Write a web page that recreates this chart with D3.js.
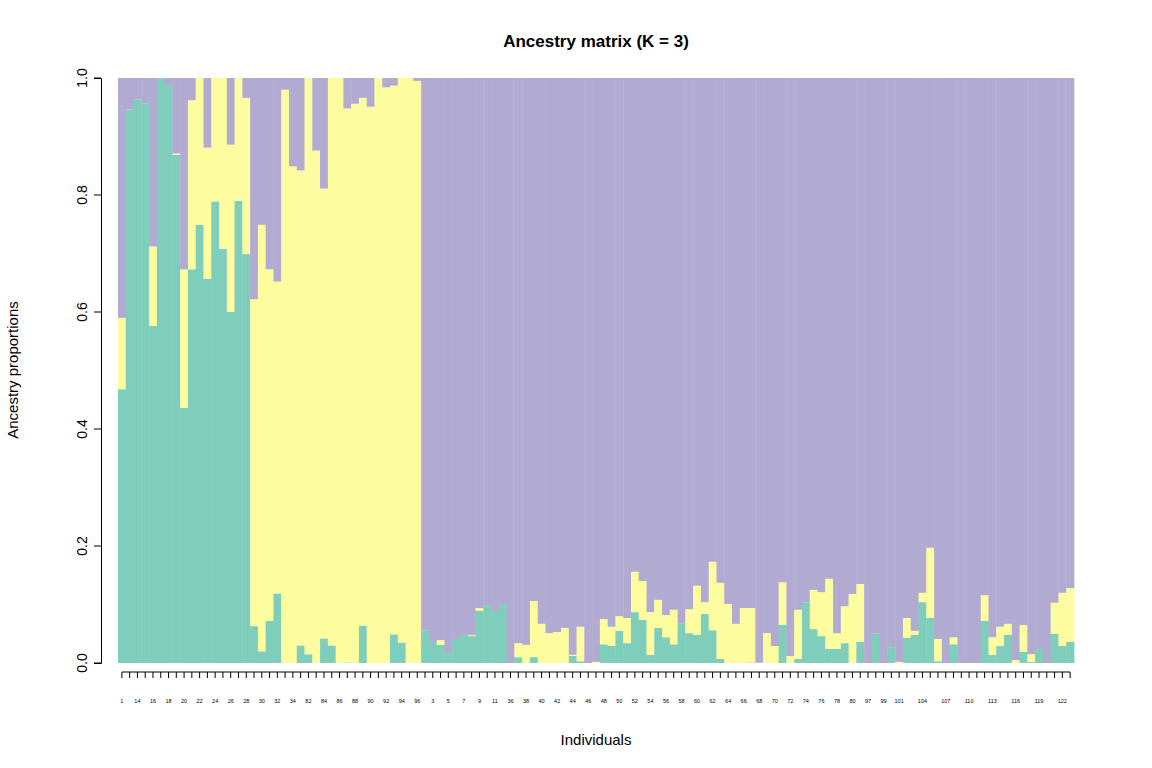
<!DOCTYPE html>
<html><head><meta charset="utf-8">
<script src="https://cdn.jsdelivr.net/npm/d3@7"></script>
<style>body{margin:0;background:#fff}svg{font-family:"Liberation Sans",Arial,sans-serif}</style>
</head><body><svg id="c" width="1152" height="768"></svg>
<script>
const individuals = [1,13].concat(d3.range(14,36), d3.range(82,97), d3.range(2,13), d3.range(36,82), d3.range(97,124)).map(String);
// cumulative tops: cluster 1 (green), cluster 1+2 (yellow); cluster 3 (purple) fills to 1
const q1 = [.468,.946,.963,.956,.576,.999,.988,.869,.436,.673,.749,.657,.789,.708,.600,.790,.699,.063,.020,.072,
.119,0,0,.030,.015,0,.042,.030,0,.001,0,.064,0,0,0,.049,.035,0,0,.056,
.036,.031,.017,.041,.048,.046,.089,.099,.089,.101,0,.010,0,.010,0,0,0,0,.012,.003,
0,0,.032,.029,.055,.034,.087,.074,.014,.060,.044,.032,.068,.051,.048,.084,.056,.007,0,0,
0,.001,.001,0,0,.065,0,.007,.103,.058,.046,.024,.024,.034,0,.036,0,.050,0,.027,
0,.043,.048,.104,.077,.003,0,.032,0,0,0,.072,.014,.029,.048,0,.019,.002,.024,0,
.050,.029,.036];
const q12 = [.590,.946,.963,.956,.712,.999,.988,.871,.673,.962,1,.881,1,1,.886,1,.966,.622,.749,.673,
.652,.980,.849,.842,1,.876,.811,1,1,.948,.956,.966,.951,1,.984,.987,1,1,.995,.056,
.036,.039,.017,.041,.048,.048,.094,.099,.089,.101,0,.034,.031,.106,.067,.051,.053,.060,.014,.062,
0,.002,.075,.062,.080,.077,.156,.140,.087,.108,.082,.091,.068,.092,.132,.104,.173,.137,.101,.067,
.094,.094,.001,.051,.029,.138,.012,.091,.103,.125,.121,.144,.051,.097,.118,.135,0,.050,0,.027,
.002,.077,.055,.120,.197,.041,0,.044,0,0,0,.116,.044,.062,.067,.005,.065,.015,.024,0,
.103,.120,.128];
const yTicks = [0,0.2,0.4,0.6,0.8,1.0];
const colors = ["#7fcdbb","#fdfda0","#b1aad1"];

const svg = d3.select("#c");
const L=118,R=1074,T=78,B=663;
const x = d3.scaleBand().domain(d3.range(individuals.length)).range([L,R]).padding(0);
const y = d3.scaleLinear().domain([0,1]).range([B,T]);
const rows = individuals.map((n,i)=>[[0,q1[i]],[q1[i],q12[i]],[q12[i],1]]);
rows.forEach((segs,i)=>segs.forEach((s,k)=>{
  if(s[1]-s[0]<=0) return;
  svg.append("rect").attr("x",x(i)).attr("width",x.bandwidth()+0.4)
    .attr("y",y(s[1])).attr("height",y(s[0])-y(s[1])).attr("fill",colors[k]);
}));
// y axis
const ya = svg.append("g").attr("transform","translate(101,0)")
  .call(d3.axisLeft(y).tickValues(yTicks).tickFormat(d3.format(".1f")).tickSizeOuter(0).tickSize(7));
ya.selectAll("path,line").attr("stroke","#000");
ya.selectAll("text").attr("font-size",14).attr("fill","#000").attr("transform","rotate(-90)")
  .attr("text-anchor","middle").attr("x",0).attr("dy",0).attr("y",-14);
ya.selectAll("text").each(function(d){d3.select(this).attr("transform",`translate(-14,${y(d)}) rotate(-90)`).attr("y",0).attr("x",0);});
ya.selectAll(".tick").attr("transform",d=>"translate(0,0)");
ya.selectAll(".tick line").attr("y1",d=>y(d)).attr("y2",d=>y(d));
// x axis
const shown = new Set(d3.range(0,101,2).concat([103,106,109,112,115,118,121]));
const xa = svg.append("g").attr("transform","translate(0,672)")
  .call(d3.axisBottom(x).tickFormat(i=>shown.has(i)?individuals[i]:"").tickSizeOuter(0).tickSize(6));
xa.select("path").attr("d",`M${x(0)+x.bandwidth()/2},0H${x(individuals.length-1)+x.bandwidth()/2}`).attr("stroke","#000");
xa.selectAll("line").attr("stroke","#000");
xa.selectAll("text").attr("font-size",5.5).attr("fill","#000").attr("y",27);
svg.append("text").attr("x",596).attr("y",47).attr("text-anchor","middle").attr("font-size",17).attr("font-weight","bold").text("Ancestry matrix (K = 3)");
svg.append("text").attr("x",596).attr("y",745).attr("text-anchor","middle").attr("font-size",15).text("Individuals");
svg.append("text").attr("transform","translate(18,370) rotate(-90)").attr("text-anchor","middle").attr("font-size",15).text("Ancestry proportions");
</script></body></html>
